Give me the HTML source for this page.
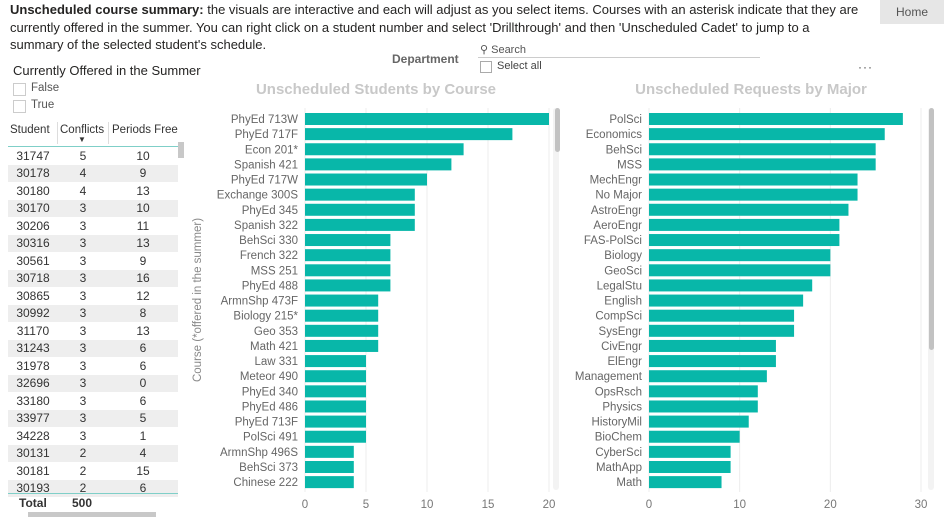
<!DOCTYPE html>
<html><head><meta charset="utf-8">
<style>
body{margin:0;width:944px;height:520px;overflow:hidden;background:#fff;font-family:"Liberation Sans",sans-serif;position:relative}
.a{position:absolute;white-space:nowrap}
#intro{left:10px;top:1px;font-size:13px;line-height:17.5px;color:#252423}
#home{left:880px;top:0;width:64px;height:24px;background:#e6e6e6;color:#555;font-size:12px;text-align:center;line-height:24px}
.tbl td{font-size:12px;color:#333;text-align:center;padding:0;height:17.5px}
</style></head><body>
<div class="a" id="intro"><b>Unscheduled course summary:</b> the visuals are interactive and each will adjust as you select items. Courses with an asterisk indicate that they are<br>currently offered in the summer. You can right click on a student number and select 'Drillthrough' and then 'Unscheduled Cadet' to jump to a<br>summary of the selected student's schedule.</div>
<div class="a" id="home">Home</div>

<div class="a" style="left:392px;top:52px;font-size:12px;font-weight:bold;color:#666">Department</div>
<div class="a" style="left:480px;top:43px;font-size:11px;color:#555">⚲ Search</div>
<div class="a" style="left:478px;top:57px;width:282px;border-top:1px solid #ccc"></div>
<div class="a" style="left:480px;top:61px;width:10px;height:10px;border:1px solid #aaa"></div>
<div class="a" style="left:497px;top:60px;font-size:11px;color:#444">Select all</div>
<div class="a" style="left:858px;top:60px;font-size:12px;color:#444;letter-spacing:1px">···</div>

<div class="a" style="left:13px;top:63px;font-size:13px;color:#252423">Currently Offered in the Summer</div>
<div class="a" style="left:13px;top:83px;width:11px;height:11px;border:1px solid #ccc"></div>
<div class="a" style="left:31px;top:82px;font-size:11.5px;color:#555">False</div>
<div class="a" style="left:13px;top:100px;width:11px;height:11px;border:1px solid #ccc"></div>
<div class="a" style="left:31px;top:99px;font-size:11.5px;color:#555">True</div>

<div class="a" style="left:10px;top:124px;font-size:11.5px;color:#333">Student</div>
<div class="a" style="left:60px;top:124px;font-size:11.5px;color:#333">Conflicts</div>
<div class="a" style="left:78px;top:135px;font-size:8px;color:#333">▼</div>
<div class="a" style="left:112px;top:124px;font-size:11.5px;color:#333">Periods Free</div>
<div class="a" style="left:57px;top:122px;height:22px;border-left:1px solid #ddd"></div>
<div class="a" style="left:108px;top:122px;height:22px;border-left:1px solid #ddd"></div>
<div class="a" style="left:8px;top:146px;width:170px;border-top:1px solid #7fcfc8"></div>
<table class="a tbl" id="tbl" style="left:8px;top:147px;width:170px;border-collapse:collapse"></table>
<div class="a" style="left:8px;top:493px;width:170px;border-top:1px solid #7fcfc8"></div>
<div class="a" style="left:19px;top:496px;font-size:12px;font-weight:bold;color:#333">Total</div>
<div class="a" style="left:72px;top:496px;font-size:12px;font-weight:bold;color:#333">500</div>
<div class="a" style="left:178px;top:142px;width:6px;height:16px;background:#c8c8c8"></div>
<div class="a" style="left:28px;top:512px;width:128px;height:5px;background:#c8c8c8"></div>

<svg class="a" style="left:0;top:0" width="944" height="520" id="svg"></svg>

<script>
const students=["31747","30178","30180","30170","30206","30316","30561","30718","30865","30992","31170","31243","31978","32696","33180","33977","34228","30131","30181","30193"];
const conflicts=[5,4,4,3,3,3,3,3,3,3,3,3,3,3,3,3,3,2,2,2];
const periodsFree=[10,9,13,10,11,13,9,16,12,8,13,6,6,0,6,5,1,4,15,6];
const courses=["PhyEd 713W","PhyEd 717F","Econ 201*","Spanish 421","PhyEd 717W","Exchange 300S","PhyEd 345","Spanish 322","BehSci 330","French 322","MSS 251","PhyEd 488","ArmnShp 473F","Biology 215*","Geo 353","Math 421","Law 331","Meteor 490","PhyEd 340","PhyEd 486","PhyEd 713F","PolSci 491","ArmnShp 496S","BehSci 373","Chinese 222"];
const courseCounts=[20,17,13,12,10,9,9,9,7,7,7,7,6,6,6,6,5,5,5,5,5,5,4,4,4];
const courseTicks=[0,5,10,15,20];
const majors=["PolSci","Economics","BehSci","MSS","MechEngr","No Major","AstroEngr","AeroEngr","FAS-PolSci","Biology","GeoSci","LegalStu","English","CompSci","SysEngr","CivEngr","ElEngr","Management","OpsRsch","Physics","HistoryMil","BioChem","CyberSci","MathApp","Math"];
const majorCounts=[28,26,25,25,23,23,22,21,21,20,20,18,17,16,16,14,14,13,12,12,11,10,9,9,8];
const majorTicks=[0,10,20,30];

const tbl=document.getElementById('tbl');
students.forEach((s,i)=>{
  const tr=document.createElement('tr');
  
  
  if(i%2==1)tr.style.background='#eeeeee';
  tr.innerHTML='<td style="width:50px">'+s+'</td><td style="width:50px">'+conflicts[i]+'</td><td>'+periodsFree[i]+'</td>';
  tbl.appendChild(tr);
});

const svg=document.getElementById('svg');
const NS='http://www.w3.org/2000/svg';
function mk(t,a,txt){const e=document.createElementNS(NS,t);for(const k in a)e.setAttribute(k,a[k]);if(txt!=null)e.textContent=txt;svg.appendChild(e);return e;}
const rowY=i=>119+i*15.13;
function chart(cats,vals,ticks,x0,x1,max,title,tx,name){
  const sx=v=>x0+(x1-x0)*v/max;
  let t=mk('text',{x:tx,y:94,'text-anchor':'middle','font-size':15,'font-weight':'bold',fill:'#c8c8c8','font-family':'Liberation Sans'},title);
  
  
  ticks.forEach(v=>{
    let g=mk('line',{x1:sx(v),x2:sx(v),y1:108,y2:492,stroke:'#ececec'});
    
    
    let l=mk('text',{x:sx(v),y:508,'text-anchor':'middle','font-size':11.5,fill:'#777','font-family':'Liberation Sans'},v);
    
    
  });
  cats.forEach((c,i)=>{
    const y=rowY(i);
    let r=mk('rect',{x:x0,y:y-6,width:sx(vals[i])-x0,height:12,fill:'#08b7a9'});
    
    
    let l=mk('text',{x:x0-7,y:y+4,'text-anchor':'end','font-size':11.5,fill:'#666','font-family':'Liberation Sans'},c);
    
    
  });
}
chart(courses,courseCounts,courseTicks,305,549,20,'Unscheduled Students by Course',376,'course-chart');
chart(majors,majorCounts,majorTicks,649,921,30,'Unscheduled Requests by Major',751,'major-chart');
let yt=mk('text',{x:0,y:0,'text-anchor':'middle','font-size':11.5,fill:'#888','font-family':'Liberation Sans',transform:'translate(201,300) rotate(-90)'},'Course (*offered in the summer)');


[[553,108,490,'course-scroll-track','#f3f3f3'],[928,108,490,'major-scroll-track','#f3f3f3']].forEach(a=>{
  let r=mk('rect',{x:a[0],y:a[1],width:6,height:a[2]-a[1],rx:3,fill:a[4]});
  
  
});
let th1=mk('rect',{x:555,y:108,width:5,height:44,rx:2.5,fill:'#c2c2c2'});


let th2=mk('rect',{x:929,y:108,width:5,height:242,rx:2.5,fill:'#c2c2c2'});


</script>
</body></html>
